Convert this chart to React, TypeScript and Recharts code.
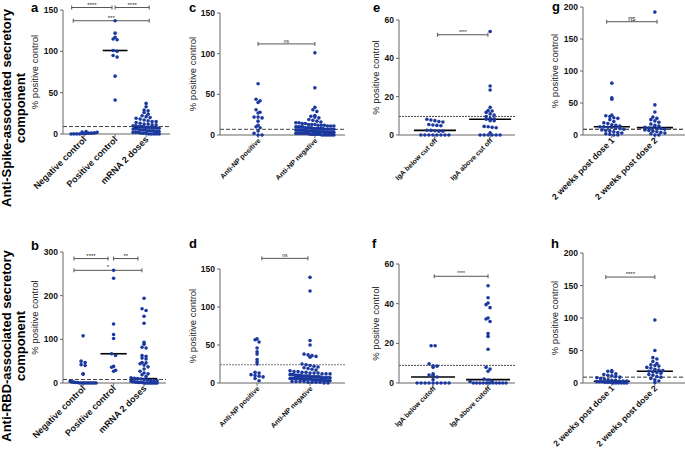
import React from "react";
import { ScatterChart, Scatter, XAxis, YAxis, ReferenceLine } from "recharts";

const FONT = "'Liberation Sans', Arial, sans-serif";
const DOT = "#1b389e";

// a: anti-spike SC
const aCats = ["Negative control", "Positive control", "mRNA 2 doses"];
const aNeg = [0, 0, 0, 0, 0.5, 0.5, 1, 1, 1.5, 2, 2.5, 3];
const aPos = [137, 122, 117, 115, 114, 101, 100, 95, 93, 70, 41];
const aMrna = [37, 33, 29, 28, 26, 24, 22, 21, 20, 19, 18, 17, 16, 15, 15, 14, 13, 12, 12, 11, 11, 10, 10, 9, 9, 9, 8, 8, 8, 7, 7, 7, 6, 6, 6, 5, 5, 5, 4, 4, 4, 3, 3, 3, 2, 2, 2, 1, 1, 1, 0, 0, 0, 0, 0];
const aMedians = [0.5, 101, 8];
const aTicks = [0, 50, 100, 150];

// b: anti-RBD SC
const bCats = aCats;
const bNeg = [108, 50, 47, 42, 40, 21, 20, 4, 3, 2, 1, 1, 0, 0, 0, 0, 0, 0, 0, 0, 0, 0];
const bPos = [258, 240, 135, 111, 102, 67, 63, 38, 36, 29, 27];
const bMrna = [194, 170, 166, 153, 137, 93, 89, 82, 80, 63, 61, 57, 55, 47, 46, 44, 41, 37, 32, 27, 23, 21, 19, 15, 12, 11, 10, 9, 8, 7, 6, 5, 5, 4, 3, 3, 2, 2, 1, 1, 1, 0, 0, 0, 0, 0, 0, 0, 0, 0];
const bMedians = [1, 67, 10];
const bTicks = [0, 100, 200, 300];

// c, d: by anti-NP status
const cdCats = ["Anti-NP positive", "Anti-NP negative"];
const cPos = [63, 44, 42, 40, 31, 28, 27, 22, 22, 21, 17, 12, 10, 9, 5, 2, 0, 0];
const cNeg = [101, 58, 34, 31, 29, 24, 23, 22, 21, 19, 18, 17, 16, 15, 15, 14, 14, 13, 13, 13, 12, 12, 12, 11, 11, 11, 10, 10, 10, 10, 9, 9, 9, 9, 8, 8, 8, 8, 8, 7, 7, 7, 7, 7, 6, 6, 6, 6, 6, 6, 5, 5, 5, 5, 5, 5, 4, 4, 4, 4, 4, 4, 4, 3, 3, 3, 3, 3, 3, 3, 2, 2, 2, 2, 2, 2, 2, 1, 1, 1, 1, 1, 1, 0, 0, 0, 0, 0, 0, 0];
const dPos = [58, 57, 54, 46, 41, 38, 31, 28, 25, 14, 13, 11, 10, 9, 8, 6, 3];
const dNeg = [139, 121, 56, 50, 38, 37, 36, 35, 34, 25, 24, 23, 22, 21, 20, 19, 18, 17, 16, 15, 15, 14, 14, 13, 13, 13, 12, 12, 12, 11, 11, 11, 10, 10, 10, 10, 9, 9, 9, 9, 9, 8, 8, 8, 8, 8, 8, 7, 7, 7, 7, 7, 7, 6, 6, 6, 6, 6, 6, 5, 5, 5, 5, 5, 4, 4, 4, 4, 4, 3, 3, 3, 3, 2, 2, 2, 2, 1, 1, 1, 1, 0, 0];
const cdTicks = [0, 50, 100, 150];

// e, f: by IgA cut off
const eCats = ["IgA below cut off", "IgA above cut off"];
const fCats = ["IgA below cutoff", "IgA above cutoff"];
const eBelow = [8.2, 7.8, 7.5, 7, 6.8, 5.5, 5.2, 5, 4.8, 2.5, 2.4, 2.2, 2, 2, 0, 0, 0, 0, 0, 0, 0, 0];
const eAbove = [54, 25.6, 23.5, 14.4, 12.7, 12.5, 11.8, 11, 10.4, 9.6, 8.7, 8.5, 8.2, 7.5, 7.5, 4.5, 4.3, 4, 3.8, 1.2, 0, 0, 0, 0, 0, 0];
const eMedians = [2.4, 8.2];
const fBelow = [18.8, 18.8, 9.7, 8.7, 8.5, 7.9, 4.7, 4, 3.9, 3, 1.7, 0, 0, 0, 0, 0, 0, 0, 0, 0];
const fAbove = [49, 43, 40.3, 39.5, 38, 32.8, 32.3, 31, 24.9, 23.5, 17, 7.9, 7, 5.9, 2, 1.5, 1, 0.8, 0, 0, 0, 0, 0, 0, 0, 0, 0, 0, 0];
const fMedians = [3, 1.7];
const efTicks = [0, 20, 40, 60];

// g, h: after dose 1 / dose 2
const ghCats = ["2 weeks post dose 1", "2 weeks post dose 2"];
const gDose1 = [81, 58, 56, 31, 30, 29, 27, 26, 24, 21, 19, 18, 16, 15, 14, 13, 13, 12, 12, 11, 10, 9, 8, 7, 6, 5, 4, 3, 2, 1, 0, 0];
const gDose2 = [192, 47, 36, 28, 26, 24, 22, 20, 17, 15, 14, 12, 11, 11, 10, 10, 9, 8, 7, 6, 5, 4, 3, 2, 0, 0];
const gMedians = [13, 11.5];
const hDose1 = [19, 18, 17, 14, 13, 12, 11, 10, 9, 8, 7, 6, 5, 4, 4, 3, 3, 3, 2, 2, 2, 1, 1, 1, 0, 0, 0, 0, 0, 0];
const hDose2 = [97, 50, 39, 37, 33, 30, 28, 27, 26, 24, 23, 21, 20, 19, 18, 17, 16, 15, 13, 12, 10, 9, 7, 5, 3, 1];
const hMedians = [2.6, 18];
const ghTicks = [0, 50, 100, 150, 200];

type Bracket = { from: number; to: number; y: number; label: string };

const panels = [
  { id: "a", left: 63, right: 170, top: 10, bottom: 134, yMax: 150, ticks: aTicks, lo: 0.32, hi: 3.77, cats: aCats, groups: [aNeg, aPos, aMrna], medians: aMedians, cutoff: 9, dash: "4 2", cutColor: "#444", catFont: 9, spread: 13, medHalf: 0.4, labelGap: 28, sigFont: 6,
    brackets: [{ from: 0.6, to: 1.9, y: 153, label: "****" }, { from: 2.0, to: 3.1, y: 153, label: "****" }, { from: 0.65, to: 3.1, y: 137, label: "***" }] as Bracket[] },
  { id: "b", left: 63, right: 166, top: 252, bottom: 383, yMax: 300, ticks: bTicks, lo: 0.34, hi: 3.72, cats: bCats, groups: [bNeg, bPos, bMrna], medians: bMedians, cutoff: 8, dash: "4 2", cutColor: "#444", catFont: 9, spread: 13, medHalf: 0.43, labelGap: 28, sigFont: 6,
    brackets: [{ from: 0.7, to: 1.82, y: 285, label: "****" }, { from: 2.0, to: 2.8, y: 285, label: "**" }, { from: 0.7, to: 2.93, y: 258, label: "*" }] as Bracket[] },
  { id: "c", left: 220, right: 345, top: 13, bottom: 135, yMax: 150, ticks: cdTicks, lo: 0.33, hi: 2.53, cats: cdCats, groups: [cPos, cNeg], medians: [] as number[], cutoff: 7, dash: "4 2", cutColor: "#444", catFont: 7, spread: 19, medHalf: 0.35, labelGap: 27, sigFont: 5,
    brackets: [{ from: 1, to: 2, y: 112, label: "ns" }] as Bracket[] },
  { id: "d", left: 220, right: 345, top: 269, bottom: 383, yMax: 150, ticks: cdTicks, lo: 0.3, hi: 2.66, cats: cdCats, groups: [dPos, dNeg], medians: [] as number[], cutoff: 24, dash: "2 1", cutColor: "#777", catFont: 7, spread: 20, medHalf: 0.35, labelGap: 27, sigFont: 5,
    brackets: [{ from: 1.09, to: 1.96, y: 164, label: "ns" }] as Bracket[] },
  { id: "e", left: 399, right: 515, top: 20, bottom: 135, yMax: 60, ticks: efTicks, lo: 0.35, hi: 2.45, cats: eCats, groups: [eBelow, eAbove], medians: eMedians, cutoff: 9.7, dash: "2 1", cutColor: "#444", catFont: 7, spread: 15, medHalf: 0.38, labelGap: 23, sigFont: 5,
    brackets: [{ from: 1.05, to: 1.96, y: 52.3, label: "****" }] as Bracket[] },
  { id: "f", left: 399, right: 515, top: 264, bottom: 383, yMax: 60, ticks: efTicks, lo: 0.38, hi: 2.49, cats: fCats, groups: [fBelow, fAbove], medians: fMedians, cutoff: 8.9, dash: "2 1", cutColor: "#444", catFont: 7, spread: 18, medHalf: 0.4, labelGap: 23, sigFont: 5,
    brackets: [{ from: 1.02, to: 2.0, y: 53.8, label: "****" }] as Bracket[] },
  { id: "g", left: 583, right: 685, top: 7, bottom: 135, yMax: 200, ticks: ghTicks, lo: 0.33, hi: 2.7, cats: ghCats, groups: [gDose1, gDose2], medians: gMedians, cutoff: 9, dash: "4 2", cutColor: "#111", catFont: 8.7, spread: 15, medHalf: 0.42, labelGap: 28, sigFont: 7,
    brackets: [{ from: 0.88, to: 2.05, y: 177, label: "ns" }] as Bracket[] },
  { id: "h", left: 583, right: 685, top: 253, bottom: 383, yMax: 200, ticks: ghTicks, lo: 0.33, hi: 2.7, cats: ghCats, groups: [hDose1, hDose2], medians: hMedians, cutoff: 9, dash: "4 2", cutColor: "#333", catFont: 8.5, spread: 15, medHalf: 0.42, labelGap: 28, sigFont: 6,
    brackets: [{ from: 0.86, to: 2.0, y: 163, label: "****" }] as Bracket[] },
];

const MT = 24;
const MR = 2;
const YW = 50;
const XH = 90;

// simple beeswarm: values close in pixel height share a row and get spread sideways
function swarm(values: number[], center: number, yMax: number, plotH: number, pxPerUnit: number, spread: number) {
  const rows = new Map<number, number[]>();
  values.forEach((v) => {
    const r = Math.round(((v / yMax) * plotH) / 3.5);
    if (!rows.has(r)) rows.set(r, []);
    rows.get(r)!.push(v);
  });
  const pts: { x: number; y: number }[] = [];
  rows.forEach((vs) => {
    const n = vs.length;
    const step = n > 1 ? Math.min(4, (2 * spread) / (n - 1)) : 0;
    vs.forEach((v, k) => pts.push({ x: center + ((k - (n - 1) / 2) * step) / pxPerUnit, y: v }));
  });
  return pts;
}

function CatTick(props: any) {
  const { x, y, payload, names, size } = props;
  const name = names[Math.round(payload.value) - 1];
  const ax = x + 3;
  const ay = y + 1;
  return (
    <text x={ax} y={ay} transform={`rotate(-45 ${ax} ${ay})`} textAnchor="end" fontSize={size} fontWeight="bold" fill="#111" fontFamily={FONT}>
      {name}
    </text>
  );
}

const dotShape = (p: any) => <circle cx={p.cx} cy={p.cy} r={1.8} fill={DOT} />;

function Panel({ p }: { p: (typeof panels)[number] }) {
  const plotW = p.right - p.left;
  const plotH = p.bottom - p.top;
  const width = plotW + YW + MR;
  const height = plotH + MT + XH;
  const pxPerUnit = plotW / (p.hi - p.lo);
  const capY = (2 * p.yMax) / plotH;
  const catIdx = p.cats.map((_, i) => i + 1);
  return (
    <div style={{ position: "absolute", left: p.left - YW, top: p.top - MT, width, height }}>
      <ScatterChart width={width} height={height} margin={{ top: MT, right: MR, bottom: 0, left: 0 }}>
        <XAxis
          type="number"
          dataKey="x"
          domain={[p.lo, p.hi]}
          allowDataOverflow
          ticks={catIdx}
          interval={0}
          height={XH}
          tickSize={3}
          stroke="#666"
          tick={(t: any) => <CatTick {...t} names={p.cats} size={p.catFont} />}
        />
        <YAxis
          type="number"
          dataKey="y"
          domain={[0, p.yMax]}
          ticks={p.ticks}
          interval={0}
          width={YW}
          tickSize={3}
          tickMargin={2}
          stroke="#666"
          tick={{ fontSize: 8.5, fontWeight: "bold", fill: "#111", fontFamily: FONT }}
          label={{
            value: "% positive control",
            angle: -90,
            position: "insideLeft",
            offset: YW - p.labelGap,
            style: { textAnchor: "middle", fontSize: 9.5, fill: "#222", fontFamily: FONT },
          }}
        />
        <ReferenceLine y={p.cutoff} stroke={p.cutColor} strokeDasharray={p.dash} strokeWidth={1} />
        {p.groups.map((g, i) => (
          <Scatter
            key={i}
            data={swarm(g, i + 1, p.yMax, plotH, pxPerUnit, p.spread)}
            shape={dotShape}
            isAnimationActive={false}
          />
        ))}
        {p.medians.map((m, i) => (
          <ReferenceLine
            key={"m" + i}
            segment={[{ x: i + 1 - p.medHalf, y: m }, { x: i + 1 + p.medHalf, y: m }]}
            stroke="#000"
            strokeWidth={1.6}
            ifOverflow="visible"
          />
        ))}
        {p.brackets.map((b, i) => (
          <ReferenceLine
            key={"b" + i}
            segment={[{ x: b.from, y: b.y }, { x: b.to, y: b.y }]}
            stroke="#555"
            strokeWidth={1}
            ifOverflow="visible"
            label={{ value: b.label, position: "top", offset: 1, fontSize: p.sigFont, fill: "#222", fontFamily: FONT }}
          />
        ))}
        {p.brackets.flatMap((b, i) =>
          [b.from, b.to].map((bx, j) => (
            <ReferenceLine
              key={"c" + i + "-" + j}
              segment={[{ x: bx, y: b.y - capY }, { x: bx, y: b.y + capY }]}
              stroke="#555"
              strokeWidth={1}
              ifOverflow="visible"
            />
          ))
        )}
      </ScatterChart>
    </div>
  );
}

const letters = [
  { t: "a", x: 31, y: 12 },
  { t: "b", x: 31, y: 250 },
  { t: "c", x: 189, y: 12 },
  { t: "d", x: 189, y: 248 },
  { t: "e", x: 373, y: 12 },
  { t: "f", x: 372, y: 248 },
  { t: "g", x: 552, y: 11 },
  { t: "h", x: 551, y: 248 },
];

export default function App() {
  return (
    <div style={{ position: "absolute", left: 0, top: 0, width: 685, height: 452, overflow: "hidden", background: "#fff" }}>
      {panels.map((p) => (
        <Panel key={p.id} p={p} />
      ))}
      <svg width={685} height={452} style={{ position: "absolute", left: 0, top: 0, pointerEvents: "none" }}>
        {letters.map((l) => (
          <text key={l.t} x={l.x} y={l.y} fontSize={13} fontWeight="bold" fontFamily={FONT} fill="#000">
            {l.t}
          </text>
        ))}
        <text transform="translate(11,108) rotate(-90)" textAnchor="middle" fontSize={13} fontWeight="bold" fontFamily={FONT} fill="#000">
          <tspan x={0} dy={0}>Anti-Spike-associated secretory</tspan>
          <tspan x={0} dy={14}>component</tspan>
        </text>
        <text transform="translate(11,346) rotate(-90)" textAnchor="middle" fontSize={13} fontWeight="bold" fontFamily={FONT} fill="#000">
          <tspan x={0} dy={0}>Anti-RBD-associated secretory</tspan>
          <tspan x={0} dy={14}>component</tspan>
        </text>
      </svg>
    </div>
  );
}
